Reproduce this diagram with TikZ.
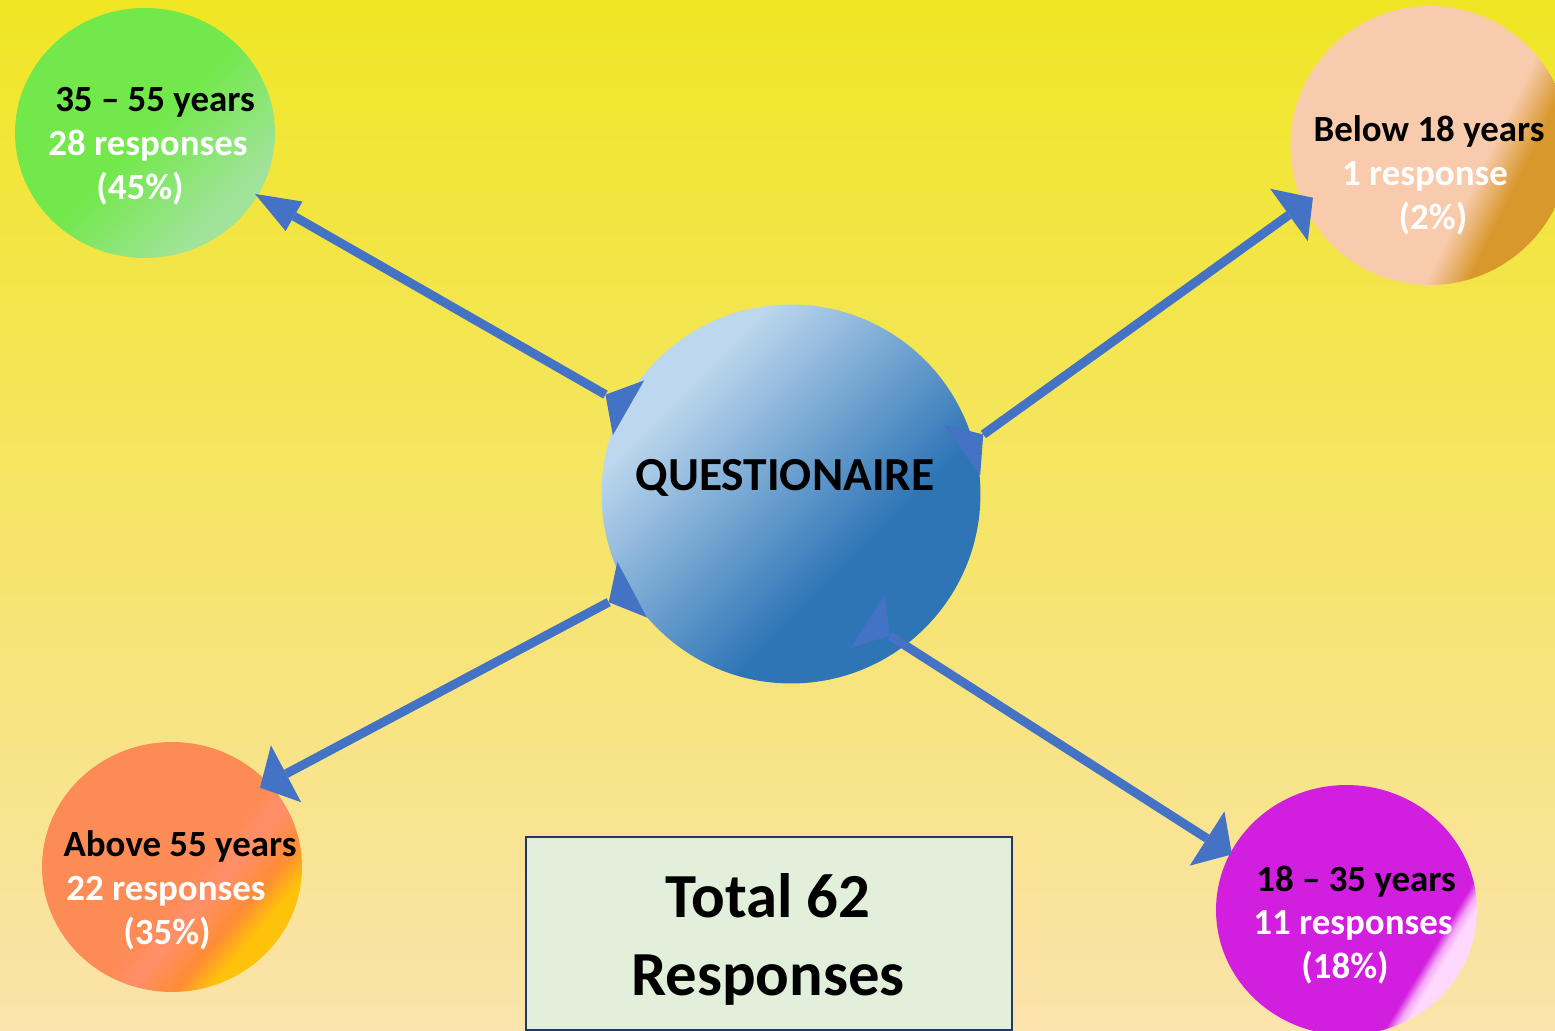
\documentclass[tikz,border=0pt]{standalone}
\usepackage{fontspec}
\setmainfont{Carlito}
\usetikzlibrary{shapes.geometric}
\usetikzlibrary{arrows.meta}

\definecolor{bgtop}{HTML}{F0E624}
\definecolor{bgbottom}{HTML}{FBE3AC}
\definecolor{qlight}{HTML}{BDD7EE}
\definecolor{qdark}{HTML}{2E75B6}
\definecolor{tlgreen}{HTML}{72E84B}
\definecolor{tllight}{HTML}{A2E39A}
\definecolor{trpeach}{HTML}{F8CBAD}
\definecolor{trgold}{HTML}{D8982C}
\definecolor{blbase}{HTML}{FD8B55}
\definecolor{blsalmon}{HTML}{FF8F6A}
\definecolor{blorange}{HTML}{FF8C35}
\definecolor{blyellow}{HTML}{FFC20A}
\definecolor{brmagenta}{HTML}{D11EDF}
\definecolor{brpink}{HTML}{F2A6F5}
\definecolor{brlight}{HTML}{FFD8FF}
\definecolor{arrowblue}{HTML}{4472C4}
\definecolor{boxfill}{HTML}{E2EFDA}
\definecolor{boxedge}{HTML}{1F3864}

\pgfdeclareverticalshading{qshade}{100bp}{color(0bp)=(qdark); color(38bp)=(qdark); color(70bp)=(qlight); color(100bp)=(qlight)}
\pgfdeclareverticalshading{tlshade}{100bp}{color(0bp)=(tllight); color(28bp)=(tllight); color(50bp)=(tlgreen); color(100bp)=(tlgreen)}
\pgfdeclareverticalshading{trshade}{100bp}{color(0bp)=(trgold); color(33bp)=(trgold); color(40bp)=(trpeach); color(100bp)=(trpeach)}
\pgfdeclareverticalshading{blshade}{100bp}{color(0bp)=(blyellow); color(29bp)=(blyellow); color(34bp)=(blorange); color(41bp)=(blsalmon); color(46bp)=(blbase); color(100bp)=(blbase)}
\pgfdeclareverticalshading{brshade}{100bp}{color(0bp)=(brlight); color(28.5bp)=(brlight); color(30bp)=(brpink); color(31.7bp)=(brmagenta); color(100bp)=(brmagenta)}

\tikzset{
  ageball/.style={ellipse, inner sep=0pt, outer sep=0pt},
  agetext/.style={align=center, font=\bfseries\fontsize{21}{25}\selectfont},
  link/.style={draw=arrowblue, line width=0.18cm},
  slimtip/.style={{Triangle[reversed,length=0.53cm,width=1.26cm,line width=0pt]}-{Triangle[length=0.9cm,width=0.68cm,line width=0pt]}},
  widetip/.style={{Triangle[reversed,length=0.53cm,width=1.26cm,line width=0pt]}-{Triangle[length=0.59cm,width=1.29cm,line width=0pt]}},
  totalbox/.style={draw=boxedge, fill=boxfill, line width=0.05cm, minimum width=9.72cm, minimum height=3.86cm},
  totaltext/.style={align=center, font=\bfseries\fontsize{35.7}{44}\selectfont}
}

\begin{document}
\begin{tikzpicture}[x=0.02cm, y=-0.02cm]
    \useasboundingbox (0,0) rectangle (1555,1031);
    \shade[top color=bgtop, bottom color=bgbottom] (0,0) rectangle (1555,1031);

    % circles
    \node[circle, inner sep=0pt, outer sep=0pt, minimum size=7.58cm, shading=qshade, shading angle=45] (q) at (791,494) {};
    \node[ageball, minimum width=5.2cm, minimum height=5cm, shading=tlshade, shading angle=45] (tl) at (145,133) {};
    \node[ageball, minimum width=5.58cm, minimum height=5.58cm, shading=trshade, shading angle=64] (tr) at (1430,145.5) {};
    \node[ageball, minimum width=5.2cm, minimum height=5cm, shading=blshade, shading angle=50] (bl) at (172,867) {};
    \node[ageball, minimum width=5.22cm, minimum height=5cm, shading=brshade, shading angle=59] (br) at (1346.5,910) {};

    % arrows from the questionaire to each age group
    \foreach \ball/\qa/\ba/\qs/\bs/\tipstyle in {tl/152.7/-29/0.11/0.06/slimtip, tr/16/205.6/0.28/0.23/widetip, bl/211.4/41.8/0.08/0.19/widetip, br/307.2/154.4/0.89/0.04/widetip} {
        \draw[link, \tipstyle, shorten <=-\qs cm, shorten >=-\bs cm] (q.\qa) -- (\ball.\ba);
    }

    % texts
    \node[font=\bfseries\fontsize{27}{32}\selectfont] (q-text) at (785,478) {QUESTIONAIRE};
    \node[agetext] (tl-text) at (148,146) {\hspace*{0.28cm}35 -- 55 years\\ \textcolor{white}{28 responses}\\ \hspace*{-0.32cm}\textcolor{white}{(45\%)}};
    \node[agetext] (tr-text) at (1429,175) {Below 18 years\\ \hspace*{-0.16cm}\textcolor{white}{1 response}\\ \hspace*{0.16cm}\textcolor{white}{(2\%)}};
    \node[agetext] (bl-text) at (171,890) {\hspace*{0.36cm}Above 55 years\\ \hspace*{-0.2cm}\textcolor{white}{22 responses}\\ \hspace*{-0.16cm}\textcolor{white}{(35\%)}};
    \node[agetext] (br-text) at (1351,925) {\hspace*{0.2cm}18 -- 35 years\\ \hspace*{0.08cm}\textcolor{white}{11 responses}\\ \hspace*{-0.24cm}\textcolor{white}{(18\%)}};

    \node[totalbox] (total) at (769,933.5) {};
    \node[totaltext] (total-text) at (768,939.5) {Total 62\\Responses};
\end{tikzpicture}
\end{document}
